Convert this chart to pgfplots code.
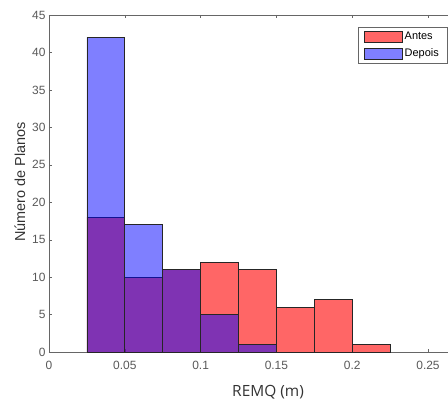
\documentclass[border=0pt]{standalone}
\usepackage{fontspec}
\setmainfont{Liberation Sans}
\newfontfamily\labelfont{Open Sans}
\usepackage{pgfplots}
\pgfplotsset{compat=1.18}

\begin{document}
\begin{tikzpicture}
\begin{axis}[
    scale only axis,
    width=399bp, height=337bp,
    xmin=0, xmax=0.2632,
    ymin=0, ymax=45,
    axis x line*=box,
    axis y line*=left,
    axis line style={black!60},
    tick align=inside,
    major tick length=3.5bp,
    tick style={black!60},
    xtick={0,0.05,0.1,0.15,0.2,0.25},
    xticklabels={0,0.05,0.1,0.15,0.2,0.25},
    ytick={0,5,...,45},
    /pgf/number format/assume math mode=true,
    ticklabel style={font=\fontsize{12}{14}\selectfont, text=black!65},
    xticklabel style={yshift=-6bp},
    ylabel={Número de Planos},
    ylabel style={font=\fontsize{14.5}{16}\selectfont, text=black!80, xshift=1.5bp},
    xlabel={\labelfont REMQ (m)},
    xlabel style={font=\fontsize{15.5}{18}\selectfont, text=black!80, at={(ticklabel cs:0.549)}, yshift=-8bp},
    legend style={
        at={(rel axis cs:0.9975,0.964)}, anchor=north east,
        draw=black!60, fill=white,
        font=\fontsize{11}{12}\selectfont,
        inner xsep=6bp, inner ysep=3bp, row sep=3.5bp,
        cells={anchor=west},
    },
    legend image code/.code={\draw[#1] (0bp,-5.5bp) rectangle (38bp,5.5bp);},
]
\coordinate (bl) at (rel axis cs:0,0);
\coordinate (tr) at (rel axis cs:1,1);

% Antes (vermelho)
\addplot[ybar, bar width=0.025, bar shift=0, fill=red, fill opacity=0.6, draw=black!85, line width=0.6bp]
coordinates {(0.0375,18) (0.0625,10) (0.0875,11) (0.1125,12) (0.1375,11) (0.1625,6) (0.1875,7) (0.2125,1)};
\addlegendentry{Antes}

% Depois (azul)
\addplot[ybar, bar width=0.025, bar shift=0, fill=blue, fill opacity=0.5, draw=black!85, line width=0.6bp]
coordinates {(0.0375,42) (0.0625,17) (0.0875,11) (0.1125,5) (0.1375,1)};
\addlegendentry{Depois}

\end{axis}
\pgfresetboundingbox
\path[use as bounding box] ([xshift=-49bp,yshift=-48bp]bl) rectangle ([yshift=15bp]tr);
\end{tikzpicture}
\end{document}
